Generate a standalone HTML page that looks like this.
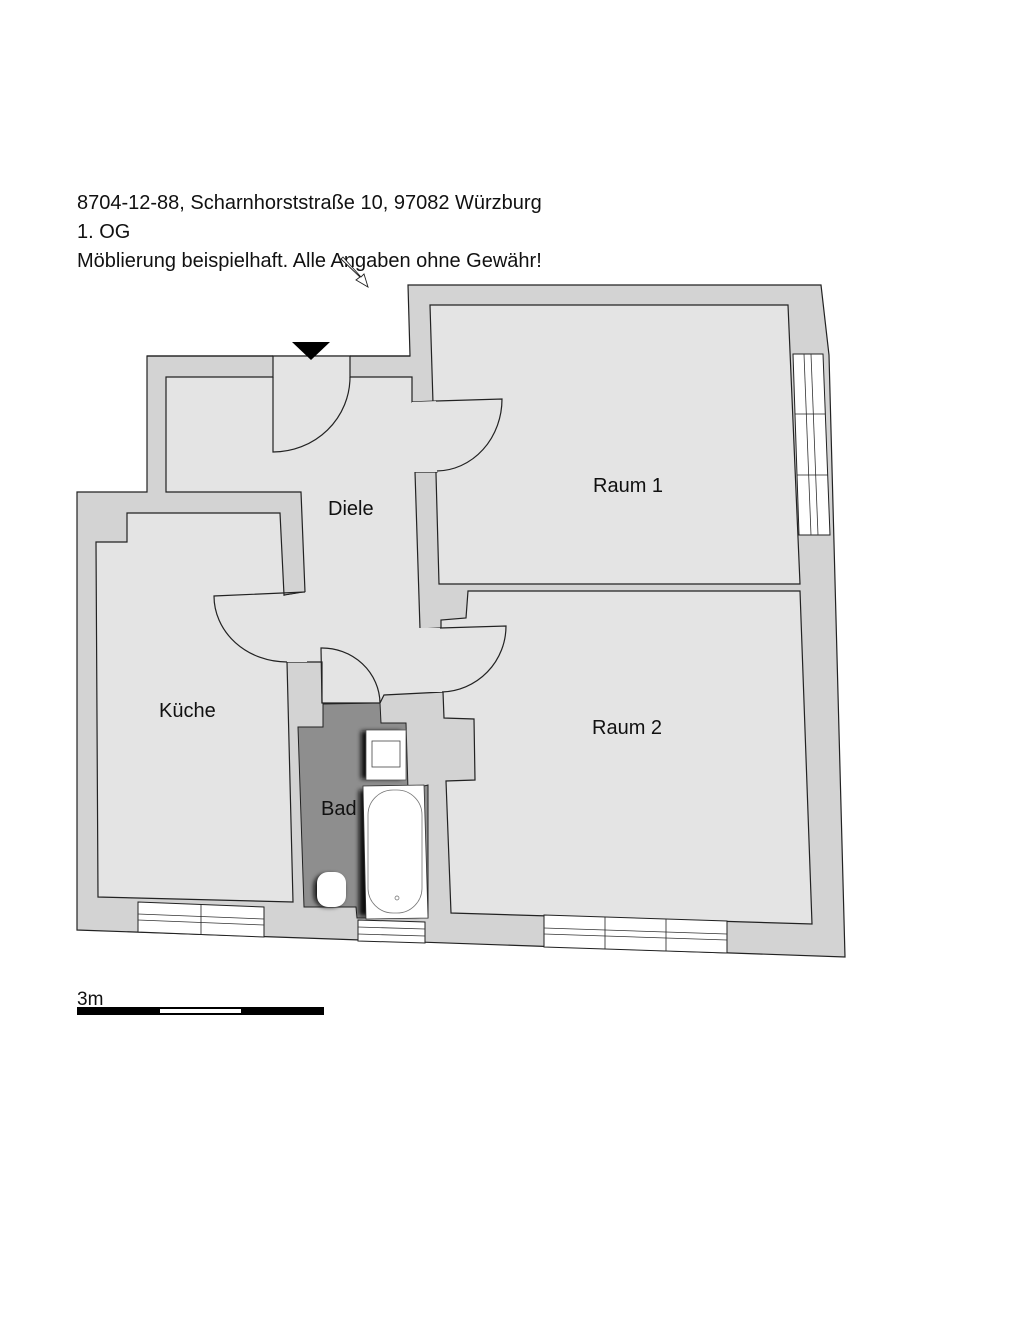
<!DOCTYPE html>
<html><head><meta charset="utf-8"><style>
html,body{margin:0;padding:0;background:#fff;}
svg{display:block;}
text{font-family:"Liberation Sans",sans-serif;fill:#111;}
</style></head><body>
<svg width="1024" height="1344" viewBox="0 0 1024 1344" xmlns="http://www.w3.org/2000/svg">
<defs><filter id="sh" x="-30%" y="-30%" width="160%" height="160%"><feGaussianBlur stdDeviation="2.5"/></filter></defs>
<text x="77" y="209" font-size="20">8704-12-88, Scharnhorststraße 10, 97082 Würzburg</text>
<text x="77" y="238" font-size="20">1. OG</text>
<text x="77" y="267" font-size="20">Möblierung beispielhaft. Alle Angaben ohne Gewähr!</text>
<!-- small arrow -->
<path d="M341,259 L360,277 L356,280 L368,287 L364,274 L361,277 L343,257 Z" fill="#fff" stroke="#222" stroke-width="0.9"/>
<!-- outer walls -->
<polygon points="147,356 273,356 273,356 350,356 410,356 408,285 821,285 829,355 845,957 77,930 77,492 147,492" fill="#d3d3d3" stroke="#222" stroke-width="1.2"/>
<rect x="273" y="355" width="77" height="23" fill="#e4e4e4"/>
<line x1="147" y1="356" x2="273" y2="356" stroke="#222" stroke-width="1.2"/>
<line x1="350" y1="356" x2="410" y2="356" stroke="#222" stroke-width="1.2"/>
<!-- Raum 1 -->
<polygon points="430,305 788,305 800,584 439,584 436,474 436,402 433,403" fill="#e4e4e4" stroke="#222" stroke-width="1.2"/>
<!-- Diele -->
<polygon points="166,377 273,377 273,356 350,356 350,377 412,377 412,402 436,401 437,472 415,472 420,629 440,628 443,692 384,695 380,703 322,703 322,662 287,662 284,595 305,592 301,492 166,492" fill="#e4e4e4" stroke="#222" stroke-width="1.2"/>
<!-- Küche -->
<polygon points="127,513 280,513 284,595 287,662 293,902 98,897 96,542 127,542" fill="#e4e4e4" stroke="#222" stroke-width="1.2"/>
<!-- Raum 2 -->
<polygon points="468,591 800,591 812,924 451,913 446,781 475,780 474,719 444,718 443,692 441,628 441,620 466,618" fill="#e4e4e4" stroke="#222" stroke-width="1.2"/>
<!-- Bad -->
<polygon points="298,727 323,727 323,704 380,703 381,723 406,723 408,790 428,785 428,918 357,918 356,907 304,907" fill="#8e8e8e" stroke="#222" stroke-width="1"/>
<polygon points="412,402 438,401 438,472 414,472" fill="#e4e4e4"/>
<polygon points="283,596 306,592 307,662 286,662" fill="#e4e4e4"/>
<polygon points="419,628 442,628 444,692 421,692" fill="#e4e4e4"/>
<!-- door swings -->
<path d="M273,377 L273,452 A77,75 0 0 0 350,377" fill="none" stroke="#222" stroke-width="1.2"/>
<path d="M436,401 L502,399 A66,72 0 0 1 437,471" fill="none" stroke="#222" stroke-width="1.2"/>
<path d="M305,592 L214,596 A73,66 0 0 0 287,662" fill="none" stroke="#222" stroke-width="1.2"/>
<path d="M440,628 L506,626 A66,66 0 0 1 442,692" fill="none" stroke="#222" stroke-width="1.2"/>
<path d="M322,703 L321,648 A58,56 0 0 1 380,703" fill="none" stroke="#222" stroke-width="1.2"/>
<polygon points="292,342 330,342 311,360" fill="#000"/>
<!-- right window -->
<polygon points="793,354 823,354 830,535 799,535" fill="#fff" stroke="#222" stroke-width="1"/>
<line x1="804" y1="354" x2="811" y2="535" stroke="#333" stroke-width="0.8"/>
<line x1="811" y1="354" x2="818" y2="535" stroke="#333" stroke-width="0.8"/>
<line x1="795" y1="414" x2="825" y2="414" stroke="#222" stroke-width="0.8"/>
<line x1="797" y1="475" x2="828" y2="475" stroke="#222" stroke-width="0.8"/>
<!-- bottom windows -->
<polygon points="138,902 264,907 264,937 138,932" fill="#fff" stroke="#222" stroke-width="1"/>
<line x1="138" y1="914" x2="264" y2="919" stroke="#333" stroke-width="0.8"/>
<line x1="138" y1="920" x2="264" y2="925" stroke="#333" stroke-width="0.8"/>
<line x1="201" y1="904" x2="201" y2="935" stroke="#222" stroke-width="0.8"/>
<polygon points="358,920 425,922 425,943 358,941" fill="#fff" stroke="#222" stroke-width="1"/>
<line x1="358" y1="927" x2="425" y2="929" stroke="#333" stroke-width="0.8"/>
<line x1="358" y1="934" x2="425" y2="936" stroke="#333" stroke-width="0.8"/>
<polygon points="544,915 727,921 727,953 544,947" fill="#fff" stroke="#222" stroke-width="1"/>
<line x1="544" y1="928" x2="727" y2="934" stroke="#333" stroke-width="0.8"/>
<line x1="544" y1="934" x2="727" y2="940" stroke="#333" stroke-width="0.8"/>
<line x1="605" y1="917" x2="605" y2="949" stroke="#222" stroke-width="0.8"/>
<line x1="666" y1="919" x2="666" y2="951" stroke="#222" stroke-width="0.8"/>
<!-- bath fixtures -->
<rect x="361" y="731" width="40" height="48" fill="#111" filter="url(#sh)"/>
<rect x="366" y="730" width="40" height="50" fill="#fff" stroke="#555" stroke-width="0.8"/>
<rect x="372" y="741" width="28" height="26" fill="none" stroke="#444" stroke-width="0.8"/>
<rect x="359" y="790" width="60" height="126" fill="#111" filter="url(#sh)"/>
<polygon points="363,786 424,785 428,918 366,919" fill="#fff" stroke="#333" stroke-width="0.8"/>
<rect x="368" y="790" width="54" height="123" rx="25" fill="none" stroke="#777" stroke-width="0.8"/>
<circle cx="397" cy="898" r="2" fill="none" stroke="#666" stroke-width="0.7"/>
<rect x="314" y="874" width="30" height="33" rx="12" fill="#111" filter="url(#sh)"/>
<rect x="317" y="872" width="29" height="35" rx="11" fill="#fff"/>
<!-- labels -->
<text x="328" y="515" font-size="20">Diele</text>
<text x="593" y="492" font-size="20">Raum 1</text>
<text x="159" y="717" font-size="20">Küche</text>
<text x="592" y="734" font-size="20">Raum 2</text>
<text x="321" y="815" font-size="20">Bad</text>
<text x="77" y="1005" font-size="19">3m</text>
<rect x="77" y="1007" width="247" height="8" fill="#000"/>
<rect x="160" y="1009" width="81" height="4" fill="#fff"/>
</svg>
</body></html>
